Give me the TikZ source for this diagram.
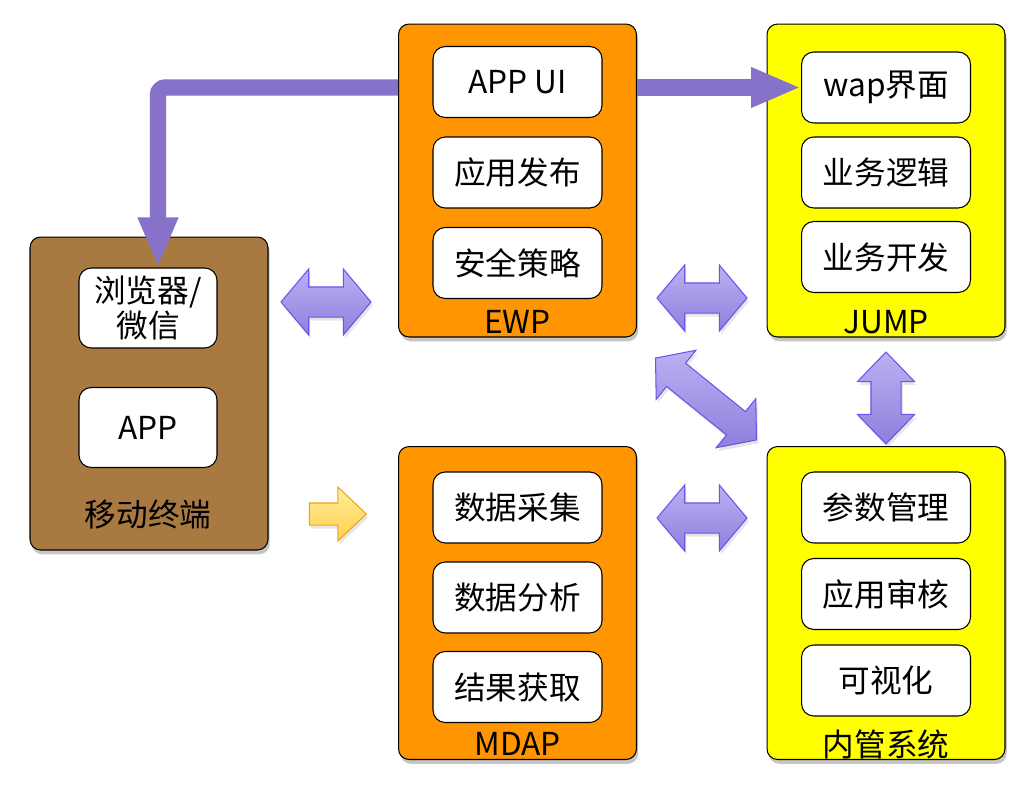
\documentclass[tikz,border=0pt]{standalone}
\usepackage{fontspec}
\setmainfont{Noto Sans CJK SC}
\usepackage{xcolor}
\usepackage{tikz}
\usetikzlibrary{
  arrows.meta,
  shapes,
  shapes.arrows,
  positioning,
  calc,
  backgrounds,
  shadows
}
\definecolor{archBrown}{HTML}{A87A42}
\definecolor{archOrange}{HTML}{FF9500}
\definecolor{archYellow}{HTML}{FFFF00}
\definecolor{archFlow}{HTML}{8672C8}
\definecolor{archLink}{HTML}{6655EE}
\definecolor{archLinkTop}{HTML}{BBB1F3}
\definecolor{archLinkBot}{HTML}{8E7FDC}
\definecolor{archHint}{HTML}{F0A020}
\definecolor{archHintTop}{HTML}{FFEC9C}
\definecolor{archHintBot}{HTML}{FFD24A}
\tikzset{
  archfont/.style={font=\fontsize{18}{20}\selectfont},
  layer/.style={
    draw=black, rounded corners=6pt, minimum width=4.76cm, minimum height=6.26cm,
    line width=0.6pt, drop shadow={shadow xshift=1pt, shadow yshift=-2.5pt, opacity=0.45}
  },
  mobile/.style={layer, fill=archBrown},
  platform/.style={layer, fill=archOrange},
  service/.style={layer, fill=archYellow},
  module/.style={
    draw=black, fill=white, rounded corners=7pt, line width=0.6pt,
    minimum width=3.38cm, minimum height=1.42cm, archfont, align=center, inner sep=1pt
  },
  client/.style={module, minimum width=2.76cm, minimum height=1.6cm},
  tag/.style={archfont, inner sep=0pt},
  flow/.style={-{Triangle[length=1cm, width=0.74cm]}, line width=0.33cm, archFlow},
  link/.style={
    double arrow, draw=archLink, top color=archLinkTop, bottom color=archLinkBot,
    line width=0.6pt, inner xsep=0pt, inner ysep=0.29cm,
    double arrow head extend=0.36cm, double arrow tip angle=100, minimum height=1.8cm,
    drop shadow={shadow xshift=1pt, shadow yshift=-2pt, opacity=0.2}
  },
  hint/.style={
    single arrow, draw=archHint, top color=archHintTop, bottom color=archHintBot,
    line width=0.6pt, inner xsep=0pt, inner ysep=0.21cm,
    single arrow head extend=0.32cm, single arrow tip angle=87, minimum height=1.14cm,
    drop shadow={shadow xshift=1pt, shadow yshift=-2pt, opacity=0.2}
  }
}
\begin{document}
\begin{tikzpicture}[x=0.02cm, y=-0.02cm]
  \useasboundingbox (0,0) rectangle (1033,794);

  % outer blocks
  \node[mobile] (mobile) at (149,393.5) {};
  \node[platform] (ewp) at (517.5,180.5) {};
  \node[service] (jump) at (886,180.5) {};
  \node[platform] (mdap) at (517.5,603) {};
  \node[service] (admin) at (886,603) {};

  % mobile terminal
  \node[client] (browser) at (148,308) {浏览器/\\微信};
  \node[client] (app) at (148,427.5) {APP};
  \node[tag] (mobiletag) at (148,515) {移动终端};

  % EWP
  \node[module] (appui) at (517.5,82) {APP UI};
  \node[module] (publish) at (517.5,172.5) {应用发布};
  \node[module] (policy) at (517.5,263) {安全策略};
  \node[tag] (ewptag) at (517.5,322) {EWP};

  % JUMP
  \node[module] (wap) at (886,87.5) {wap界面};
  \node[module] (logic) at (886,172.5) {业务逻辑};
  \node[module] (devel) at (886,257) {业务开发};
  \node[tag] (jumptag) at (886,322) {JUMP};

  % MDAP
  \node[module] (collect) at (517.5,507.5) {数据采集};
  \node[module] (analyse) at (517.5,597.5) {数据分析};
  \node[module] (fetch) at (517.5,687) {结果获取};
  \node[tag] (mdaptag) at (517.5,744) {MDAP};

  % admin system
  \node[module] (params) at (886,507.5) {参数管理};
  \node[module] (review) at (886,594) {应用审核};
  \node[module] (visual) at (886,680.5) {可视化};
  \node[tag] (admintag) at (886,744) {内管系统};

  % flows
  \draw[flow, rounded corners=0.15cm] (ewp.west |- wap.west) -| ([xshift=0.2cm]browser.north);
  \draw[flow] (ewp.east |- wap.west) -- (wap.west);

  % links between blocks
  \node[link] (ewplink) at (326,302) {};
  \node[link] (jumplink) at (702,298) {};
  \node[link] (mdaplink) at (702,518) {};
  \node[link, rotate=-39, minimum height=2.6cm, double arrow head extend=0.33cm] (crosslink) at (706,399) {};
  \node[link, rotate=90, minimum height=1.84cm, double arrow head extend=0.27cm,
    double arrow tip angle=88] (adminlink) at (886,398) {};
  \node[hint] (mdaphint) at (332,514) {};
\end{tikzpicture}
\end{document}
